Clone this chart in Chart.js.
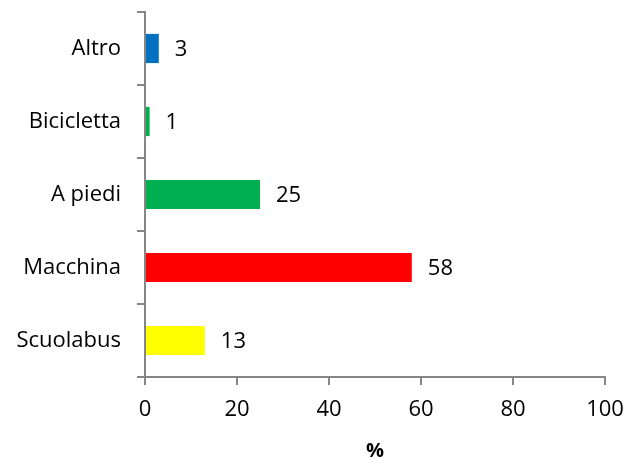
<!DOCTYPE html>
<html>
<head>
<meta charset="utf-8">
<script src="https://cdn.jsdelivr.net/npm/chart.js@4"></script>
<style>
  html, body { margin: 0; padding: 0; background: #fff; }
  #wrap { width: 627px; height: 459px; }
</style>
</head>
<body>
<div id="wrap"><canvas id="chart" width="627" height="459"></canvas></div>
<script>
  // mezzo di trasporto per andare a scuola
  const categorie = ["Altro", "Bicicletta", "A piedi", "Macchina", "Scuolabus"];
  const percentuali = [3, 1, 25, 58, 13];
  const colori = ["#0070C0", "#00B050", "#00B050", "#FF0000", "#FFFF00"];
  const tickX = [0, 20, 40, 60, 80, 100];

  const FONT = "'Open Sans', sans-serif";
  const AXIS = "#868686";

  // scrive il valore accanto alla fine di ogni barra
  const etichette = {
    id: "etichette",
    afterDatasetsDraw(chart) {
      const ctx = chart.ctx;
      const meta = chart.getDatasetMeta(0);
      ctx.save();
      ctx.font = "22px " + FONT;
      ctx.fillStyle = "#000";
      ctx.textAlign = "left";
      ctx.textBaseline = "middle";
      meta.data.forEach((bar, i) => {
        ctx.fillText(String(percentuali[i]), bar.x + 16, bar.y + 1);
      });
      ctx.restore();
    }
  };

  new Chart(document.getElementById("chart").getContext("2d"), {
    type: "bar",
    data: {
      labels: categorie,
      datasets: [{
        data: percentuali,
        backgroundColor: colori,
        borderWidth: 0,
        categoryPercentage: 1,
        barPercentage: 0.4
      }]
    },
    options: {
      indexAxis: "y",
      responsive: false,
      animation: false,
      layout: { padding: { top: 12, right: 22, left: 0, bottom: 0 } },
      plugins: {
        legend: { display: false },
        tooltip: { enabled: false }
      },
      scales: {
        x: {
          min: 0,
          max: 100,
          afterBuildTicks(scale) {
            scale.ticks = tickX.map(v => ({ value: v }));
          },
          afterFit(scale) {
            scale.height = 82;
            scale.paddingLeft = 0;
            scale.paddingRight = 0;
          },
          border: { color: AXIS, width: 2 },
          grid: { drawOnChartArea: false, color: AXIS, lineWidth: 2, tickLength: 8 },
          ticks: { color: "#000", font: { family: FONT, size: 22 }, padding: 12 },
          title: {
            display: true,
            text: "%",
            color: "#000",
            font: { family: FONT, size: 20, weight: "bold" },
            padding: { top: 0, bottom: -4 }
          }
        },
        y: {
          afterFit(scale) {
            scale.width = 145;
            scale.paddingTop = 0;
            scale.paddingBottom = 0;
          },
          border: { color: AXIS, width: 2 },
          grid: { drawOnChartArea: false, color: AXIS, lineWidth: 2, tickLength: 8, offset: true },
          ticks: { color: "#000", font: { family: FONT, size: 22 }, padding: 16 }
        }
      }
    },
    plugins: [etichette]
  });
</script>
</body>
</html>
